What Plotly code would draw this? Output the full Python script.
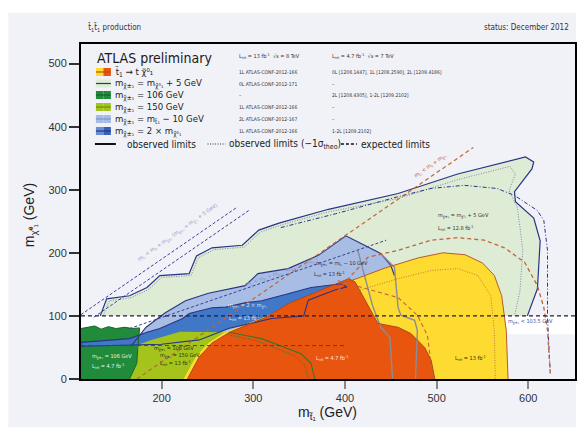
import plotly.graph_objects as go

# ---------------- figure geometry ----------------
W, H = 578, 429
ML, MR, MT, MB = 81, 1, 44, 50
X_RANGE = [112, 651]
Y_RANGE = [0, 531]

# ---------------- excluded regions (GeV) ----------------
band_x = [112, 651, 651, 112]
band_y = [71, 71, 100, 100]

# m(chi+-) = m(chi0) + 5 GeV, 0L, 12.8 fb-1
lgreen_x = [133, 140, 165, 184, 198, 230, 238, 255, 288, 306, 328, 382, 458, 523, 597, 606, 604, 585, 586, 606, 613, 610, 599]
lgreen_y = [100, 127, 132, 145, 164, 167, 195, 208, 212, 236, 247, 269, 294, 325, 352, 344, 333, 297, 281, 255, 219, 143, 100]
lgreen_m1s_x = [136, 143, 167, 186, 200, 232, 240, 257, 290, 308, 330, 382, 458, 523, 580, 586, 579, 588, 591, 594, 591, 585]
lgreen_m1s_y = [100, 124, 129, 142, 161, 164, 192, 205, 209, 233, 244, 265, 286, 316, 337, 325, 299, 272, 240, 204, 140, 100]
lgreen_exp_x = [330, 390, 458, 494, 530, 566, 585, 596, 610, 617, 621, 621, 624]
lgreen_exp_y = [240, 262, 289, 302, 307, 302, 291, 280, 267, 251, 204, 98, 9]

# m(chi+-) = m(stop) - 10 GeV, 2L
lblue_top_x = [167, 183, 204, 226, 251, 291, 305, 338, 371, 401, 417, 439, 450, 454]
lblue_top_y = [53, 82, 105, 124, 136, 148, 167, 175, 196, 227, 215, 199, 180, 164]
lblue_low_x = [430, 350, 273, 190]
lblue_low_y = [120, 100, 75, 58]

# m(chi+-) = 106 GeV, 7 TeV 2L
dgreen_x = [112, 112, 120, 127, 134, 142, 150, 160, 168, 176, 174, 173, 165]
dgreen_y = [0, 80, 82, 84, 79, 83, 80, 82, 80, 81, 50, 25, 0]

# m(chi+-) = 2 m(chi0), 1L
dblue_x = [112, 165, 184, 198, 223, 230, 255, 270, 292, 309, 338, 363, 396, 402, 389, 360, 355, 320, 273, 241, 200, 112, 112]
dblue_y = [58, 64, 74, 80, 96, 104, 113, 114, 121, 124, 135, 145, 151, 146, 141, 125, 100, 96, 80, 62, 55, 52, 58]

# m(chi+-) = 150 GeV, 1L
lime_x = [165, 173, 174, 176, 187, 203, 220, 273, 309, 338, 352, 363, 367]
lime_y = [0, 25, 50, 55, 61, 68, 75, 74, 64, 48, 40, 25, 0]
lime_m1s_x = [273, 305, 333, 346, 356, 360]
lime_m1s_y = [70, 60, 44, 36, 22, 0]

# stop -> t chi0, 13 fb-1 (8 TeV)
yellow_x = [224, 237, 251, 269, 308, 339, 393, 407, 444, 480, 507, 531, 550, 563, 571, 576, 578]
yellow_y = [0, 35, 57, 74, 96, 116, 151, 156, 176, 192, 200, 197, 184, 164, 132, 77, 0]
yellow_m1s_x = [414, 458, 494, 523, 545, 559, 563, 564]
yellow_m1s_y = [140, 159, 172, 175, 164, 132, 77, 0]
yellow_exp_x = [392, 425, 458, 494, 523, 552, 574, 596, 610, 617, 621, 624]
yellow_exp_y = [140, 193, 204, 220, 224, 220, 208, 185, 148, 113, 77, 9]

# stop -> t chi0, 4.7 fb-1 (7 TeV)
orange_x = [228, 241, 255, 274, 292, 314, 339, 364, 390, 404, 411, 426, 436, 458, 472, 487, 494, 498]
orange_y = [0, 35, 57, 74, 85, 98, 120, 135, 151, 159, 154, 113, 88, 82, 72, 50, 30, 0]
orange_exp_x = [392, 425, 458, 479, 490, 496]
orange_exp_y = [156, 143, 129, 101, 69, 0]

# other 7 TeV contours
grey1_x = [414, 423, 430, 439, 449, 452]
grey1_y = [204, 156, 117, 82, 66, 0]
grey2_x = [439, 454, 458, 461, 476, 479, 477]
grey2_y = [199, 177, 113, 101, 93, 77, 0]

# kinematic boundaries
kin_bchi5_x = [112, 282]
kin_bchi5_y = [102, 272]
kin_bchi5b_x = [126, 296]
kin_bchi5b_y = [98, 268]
kin_top_x = [173, 540]
kin_top_y = [0, 367]
kin_b2chi_x = [165, 445]
kin_b2chi_y = [80, 220]
lep_x = [112, 651]
lep_y = [100, 100]
half106_x = [112, 400]
half106_y = [53, 53]

# ---------------- colours ----------------
BG = "#f1f2f8"
NAVY = "#2b3384"
C_LGREEN = "#deecd5"
C_LBLUE = "#a8bde4"
C_DBLUE = "#4077c6"
C_DGREEN = "#1f8b3b"
C_LIME = "#a4c41c"
C_YELLOW = "#fedb30"
C_ORANGE = "#e8550f"
BROWN = "#c0643c"
GREY = "#8c8c98"
DKGREEN = "#2d7a2a"

FONT = "Liberation Sans Narrow, DejaVu Sans Condensed, Roboto Condensed, Liberation Sans, sans-serif"
FONT_R = "Liberation Sans, Arial, sans-serif"

SHORT_DASH = "3px,2px"
MID_DASH = "4px,3px"
DOTS = "1px,1.5px"

fig = go.Figure()


def fill(x, y, color):
    fig.add_trace(go.Scatter(x=x, y=y, fill="toself", fillcolor=color, mode="lines",
                             line=dict(width=0, color=color), hoverinfo="skip", showlegend=False))


def line(x, y, color, width=1.0, dash="solid"):
    fig.add_trace(go.Scatter(x=x, y=y, mode="lines", line=dict(color=color, width=width, dash=dash),
                             hoverinfo="skip", showlegend=False))


# fills, back to front
fill(band_x, band_y, "#ffffff")
fill(lgreen_x, lgreen_y, C_LGREEN)
fill(lblue_top_x + lblue_low_x, lblue_top_y + lblue_low_y, C_LBLUE)
fill(dgreen_x, dgreen_y, C_DGREEN)
fill(dblue_x, dblue_y, C_DBLUE)
fill(lime_x, lime_y, C_LIME)
fill(yellow_x, yellow_y, C_YELLOW)
fill(orange_x, orange_y, C_ORANGE)

# contours
line(lgreen_m1s_x, lgreen_m1s_y, "#7c86ad", 1.0, DOTS)
line(lgreen_x, lgreen_y, NAVY, 1.2)
line(lgreen_exp_x, lgreen_exp_y, NAVY, 1.0, "4px,2px,1px,2px")
line(lblue_top_x, lblue_top_y, NAVY, 1.1)
line(dblue_x, dblue_y, NAVY, 1.1)
line(lime_x[7:], lime_y[7:], DKGREEN, 1.1)
line(lime_m1s_x, lime_m1s_y, DKGREEN, 1.0, DOTS)
line(dgreen_x[1:], dgreen_y[1:], "#17632a", 1.0)
line(grey1_x, grey1_y, GREY, 1.4)
line(grey2_x, grey2_y, GREY, 1.4)
line(yellow_x[6:], yellow_y[6:], "#b85a2c", 1.0)
line(yellow_m1s_x, yellow_m1s_y, "#c07a40", 1.0, DOTS)
line(orange_x, orange_y, "#b3461c", 1.0)
line(orange_exp_x, orange_exp_y, BROWN, 1.1, MID_DASH)
line(yellow_exp_x, yellow_exp_y, BROWN, 1.3, MID_DASH)

# kinematic and LEP lines
line(kin_bchi5_x, kin_bchi5_y, "#3a3f9a", 1.0, SHORT_DASH)
line(kin_bchi5b_x, kin_bchi5b_y, "#3a3f9a", 1.0, SHORT_DASH)
line(kin_b2chi_x, kin_b2chi_y, "#3a3f9a", 1.0, SHORT_DASH)
line(kin_top_x, kin_top_y, BROWN, 1.2, MID_DASH)
line(lep_x, lep_y, "#1c1c3c", 1.1, MID_DASH)
line(half106_x, half106_y, "#3a3f9a", 1.0, MID_DASH)


# ---------------- pixel -> paper helpers for decorations ----------------
PW = W - ML - MR
PH = H - MT - MB


def px(x):
    return (x - ML) / PW


def py(y):
    return (H - MB - y) / PH


shapes = []
annotations = []

# grey panel behind the whole chart
shapes.append(dict(type="rect", xref="paper", yref="paper", x0=px(8), x1=px(578), y0=py(427), y1=py(13),
                   fillcolor=BG, line=dict(width=0), layer="below"))


def text(x, y, s, size=6, color="#222", anchor="left", angle=0, family=FONT):
    annotations.append(dict(xref="paper", yref="paper", x=px(x), y=py(y), text=s, showarrow=False,
                            xanchor=anchor, yanchor="middle", textangle=angle,
                            font=dict(size=size, color=color, family=family)))


# header lines
text(86, 27, "t̃<sub>1</sub>t̃<sub>1</sub> production", 8, "#333")
text(573, 27, "status: December 2012", 8, "#333", "right")

# legend block
text(95, 58, "ATLAS preliminary", 14, "#1a1a1a")
text(238, 56, "L<sub>int</sub> = 13 fb<sup>-1</sup>  √s = 8 TeV", 5.5, "#333")
text(331, 56, "L<sub>int</sub> = 4.7 fb<sup>-1</sup>  √s = 7 TeV", 5.5, "#333")

rows_y = [72, 83.5, 95, 107, 119, 131]
swatches = [
    (C_YELLOW, C_ORANGE, "#c04a1a"),
    (C_LGREEN, C_LGREEN, NAVY),
    (C_DGREEN, C_DGREEN, "#17632a"),
    (C_LIME, C_LIME, "#6d8c10"),
    (C_LBLUE, C_LBLUE, "#7f95d0"),
    ("#6a8fd2", "#3562b8", NAVY),
]
labels = [
    "t̃<sub>1</sub> → t χ̃⁰₁",
    "m<sub>χ̃±₁</sub> = m<sub>χ̃⁰₁</sub> + 5 GeV",
    "m<sub>χ̃±₁</sub> = 106 GeV",
    "m<sub>χ̃±₁</sub> = 150 GeV",
    "m<sub>χ̃±₁</sub> = m<sub>t̃₁</sub> − 10 GeV",
    "m<sub>χ̃±₁</sub> = 2 × m<sub>χ̃⁰₁</sub>",
]
col8 = ["1L ATLAS-CONF-2012-166", "0L ATLAS-CONF-2012-171", "–",
        "1L ATLAS-CONF-2012-166", "2L ATLAS-CONF-2012-167", "1L ATLAS-CONF-2012-166"]
col7 = ["0L [1208.1447], 1L [1208.2590], 2L [1209.4186]", "–", "2L [1208.4305], 1-2L [1209.2102]",
        "–", "–", "1-2L [1209.2102]"]
for yy, (c1, c2, cl), lab, a, b in zip(rows_y, swatches, labels, col8, col7):
    shapes.append(dict(type="rect", xref="paper", yref="paper", x0=px(96), x1=px(103.5), y0=py(yy + 4),
                       y1=py(yy - 4), fillcolor=c1, line=dict(width=0)))
    shapes.append(dict(type="rect", xref="paper", yref="paper", x0=px(103.5), x1=px(111), y0=py(yy + 4),
                       y1=py(yy - 4), fillcolor=c2, line=dict(width=0)))
    shapes.append(dict(type="line", xref="paper", yref="paper", x0=px(96), x1=px(111), y0=py(yy),
                       y1=py(yy), line=dict(color=cl, width=1.2)))
    text(113, yy, lab, 9.5, "#222")
    text(238, yy, a, 5, "#333")
    text(331, yy, b, 5, "#333")

# line-style legend
shapes.append(dict(type="line", xref="paper", yref="paper", x0=px(95), x1=px(116), y0=py(144), y1=py(144),
                   line=dict(color="#111", width=2)))
text(125, 144, "observed limits", 10, "#222")
shapes.append(dict(type="line", xref="paper", yref="paper", x0=px(208), x1=px(226), y0=py(144), y1=py(144),
                   line=dict(color="#333", width=1, dash=DOTS)))
text(228, 144, "observed limits (−1σ<sub>theo</sub>)", 10, "#222")
shapes.append(dict(type="line", xref="paper", yref="paper", x0=px(342), x1=px(358), y0=py(144), y1=py(144),
                   line=dict(color="#111", width=1.5, dash="3px,2px")))
text(360, 144, "expected limits", 10, "#222")

# region labels
text(437, 215, "m<sub>χ̃±₁</sub> = m<sub>χ̃⁰₁</sub> + 5 GeV", 5.5, "#333")
text(437, 228, "L<sub>int</sub> = 12.8 fb<sup>-1</sup>", 5.5, "#333")
text(315, 263, "m<sub>χ̃±₁</sub> = m<sub>t̃₁</sub> − 10 GeV", 5.5, "#2b2b50")
text(313, 274, "L<sub>int</sub> = 13 fb<sup>-1</sup>", 5.5, "#2b2b50")
text(227, 305, "m<sub>χ̃±₁</sub> = 2 × m<sub>χ̃⁰₁</sub>", 5.5, "#dfe6f6")
text(228, 318, "L<sub>int</sub> = 13 fb<sup>-1</sup>", 5.5, "#dfe6f6")
text(315, 358, "L<sub>int</sub> = 4.7 fb<sup>-1</sup>", 5.5, "#fde8d8")
text(455, 358, "L<sub>int</sub> = 13 fb<sup>-1</sup>", 5.5, "#3a2a10")
text(508, 321, "m<sub>χ̃±₁</sub> < 103.5 GeV", 5.5, "#4a4f8a")
text(90, 356, "m<sub>χ̃±₁</sub> = 106 GeV", 5.5, "#e6f4e6")
text(90, 366, "L<sub>int</sub> = 4.7 fb<sup>-1</sup>", 5.5, "#e6f4e6")
text(152, 348, "m<sub>χ̃±₁</sub> = 106 GeV", 5.5, "#263010")
text(158, 355, "m<sub>χ̃±₁</sub> = 150 GeV", 5.5, "#263010")
text(158, 363, "L<sub>int</sub> = 13 fb<sup>-1</sup>", 5.5, "#263010")

# kinematic line labels
text(178, 233, "m<sub>t̃₁</sub> < m<sub>b</sub> + m<sub>χ̃±₁</sub> (m<sub>χ̃±₁</sub> = m<sub>χ̃⁰₁</sub> + 5 GeV)",
     5.5, "#9a9cc6", "center", -35)
text(432, 165, "m<sub>t̃₁</sub> < m<sub>t</sub> + m<sub>χ̃⁰₁</sub>", 5.5, BROWN, "center", -35)
text(282, 272, "m<sub>t̃₁</sub> < m<sub>b</sub> + m<sub>χ̃±₁</sub> (m<sub>χ̃±₁</sub> = 2m<sub>χ̃⁰₁</sub>)",
     5.5, "#8c93c8", "center", -19)

# axis titles
text(328, 413, "m<sub>t̃₁</sub> (GeV)", 14, "#222", "center", family=FONT_R)
text(30, 215, "m<sub>χ̃⁰₁</sub> (GeV)", 14, "#222", "center", -90, family=FONT_R)

fig.update_layout(
    width=W, height=H,
    margin=dict(l=ML, r=MR, t=MT, b=MB, pad=0),
    paper_bgcolor="#ffffff",
    plot_bgcolor=BG,
    showlegend=False,
    shapes=shapes,
    annotations=annotations,
    xaxis=dict(range=X_RANGE, tickvals=[200, 300, 400, 500, 600], showgrid=False, zeroline=False,
               showline=True, linecolor="#000", linewidth=2, mirror=True,
               ticks="outside", ticklen=8, tickwidth=2, tickcolor="#888",
               tickfont=dict(size=11, color="#333", family=FONT_R)),
    yaxis=dict(range=Y_RANGE, tickvals=[0, 100, 200, 300, 400, 500], showgrid=False, zeroline=False,
               showline=True, linecolor="#000", linewidth=2, mirror=True,
               ticks="outside", ticklen=10, tickwidth=1.5, tickcolor="#333",
               tickfont=dict(size=11, color="#333", family=FONT_R)),
)

fig.write_html("out.html")
